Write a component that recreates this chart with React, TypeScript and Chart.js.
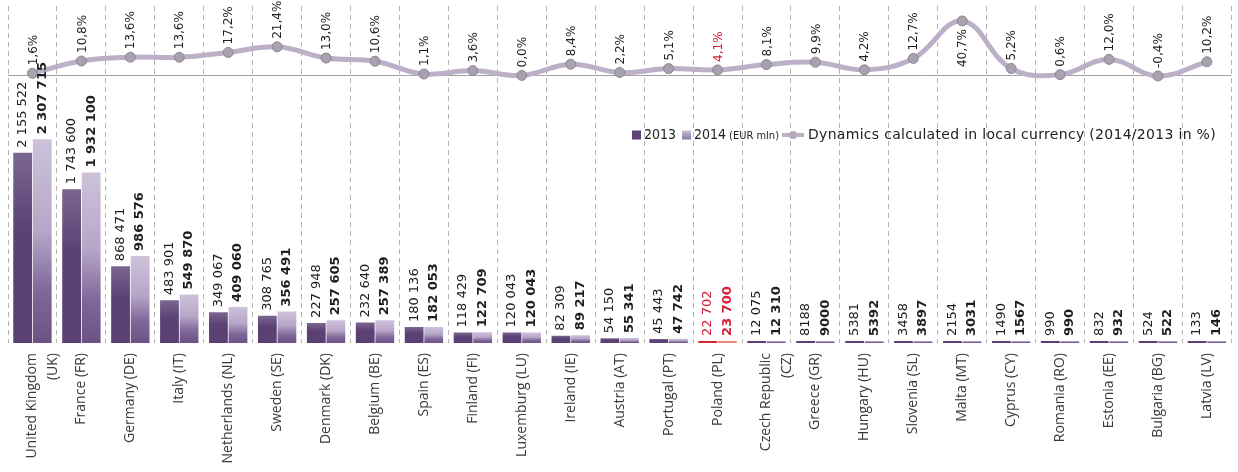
import React, { useEffect, useRef } from 'react';
import { Chart, registerables } from 'chart.js';

Chart.register(...registerables);

const categories: (string | string[])[] = [
  ['United Kingdom', '(UK)'], 'France (FR)', 'Germany (DE)', 'Italy (IT)', 'Netherlands (NL)',
  'Sweden (SE)', 'Denmark (DK)', 'Belgium (BE)', 'Spain (ES)', 'Finland (FI)',
  'Luxemburg (LU)', 'Ireland (IE)', 'Austria (AT)', 'Portugal (PT)', 'Poland (PL)',
  ['Czech Republic', '(CZ)'], 'Greece (GR)', 'Hungary (HU)', 'Slovenia (SL)', 'Malta (MT)',
  'Cyprus (CY)', 'Romania (RO)', 'Estonia (EE)', 'Bulgaria (BG)', 'Latvia (LV)',
];

const values2013 = [
  2155522, 1743600, 868471, 483901, 349067, 308765, 227948, 232640, 180136, 118429,
  120043, 82309, 54150, 45443, 22702, 12075, 8188, 5381, 3458, 2154,
  1490, 990, 832, 524, 133,
];

const values2014 = [
  2307715, 1932100, 986576, 549870, 409060, 356491, 257605, 257389, 182053, 122709,
  120043, 89217, 55341, 47742, 23700, 12310, 9000, 5392, 3897, 3031,
  1567, 990, 932, 522, 146,
];

const dynamics = [
  1.6, 10.8, 13.6, 13.6, 17.2, 21.4, 13.0, 10.6, 1.1, 3.6,
  0.0, 8.4, 2.2, 5.1, 4.1, 8.1, 9.9, 4.2, 12.7, 40.7,
  5.2, 0.6, 12.0, -0.4, 10.2,
];

const highlightIndex = 14; // Poland
const RED = '#d6203a';

const legendLabels = ['2013', '2014', '(EUR mln)', 'Dynamics calculated in local currency (2014/2013 in %)'];

const fmtValue = (v: number) =>
  v >= 10000 ? String(v).replace(/\B(?=(\d{3})+(?!\d))/g, ' ') : String(v);
const fmtPct = (v: number) => v.toFixed(1).replace('.', ',') + '%';

function barGradient(ctx: any, series: number) {
  const chart = ctx.chart;
  const idx = ctx.dataIndex;
  if (idx === highlightIndex) return series === 0 ? '#d2263a' : '#e7867a';
  const fallback = series === 0 ? '#5d4377' : '#b8a8c9';
  if (!chart.chartArea || ctx.type !== 'data') return fallback;
  const y = chart.scales.y;
  const base = y.getPixelForValue(0);
  let top = y.getPixelForValue(ctx.raw);
  if (base - top < 3) top = base - 3;
  const g = chart.ctx.createLinearGradient(0, top, 0, base);
  if (series === 0) {
    g.addColorStop(0, '#7b6690');
    g.addColorStop(0.4, '#5c4176');
    g.addColorStop(1, '#5a3f73');
  } else {
    g.addColorStop(0, '#cdc2da');
    g.addColorStop(0.45, '#b6a6c7');
    g.addColorStop(0.75, '#806799');
    g.addColorStop(1, '#6b5184');
  }
  return g;
}

const zeroLinePlugin = {
  id: 'zeroLine',
  beforeDatasetsDraw(chart: any) {
    const c = chart.ctx;
    const y = Math.round(chart.scales.y1.getPixelForValue(0)) + 0.5;
    c.save();
    c.strokeStyle = '#a3a3a3';
    c.lineWidth = 1;
    c.beginPath();
    c.moveTo(chart.chartArea.left, y);
    c.lineTo(chart.chartArea.right, y);
    c.stroke();
    c.restore();
  },
};

const labelsPlugin = {
  id: 'valueLabels',
  afterDatasetsDraw(chart: any) {
    const c = chart.ctx;
    c.save();
    [0, 1].forEach((di) => {
      const meta = chart.getDatasetMeta(di);
      const vals = di === 0 ? values2013 : values2014;
      meta.data.forEach((el: any, i: number) => {
        c.save();
        c.translate(el.x, el.y - 5);
        c.rotate(-Math.PI / 2);
        c.font = `${di === 1 ? 'bold ' : ''}13px "DejaVu Sans", sans-serif`;
        c.fillStyle = i === highlightIndex ? RED : '#1e1e1e';
        c.textAlign = 'left';
        c.textBaseline = 'middle';
        c.fillText(fmtValue(vals[i]), 0, 0);
        c.restore();
      });
    });
    const lm = chart.getDatasetMeta(2);
    lm.data.forEach((el: any, i: number) => {
      const txt = fmtPct(dynamics[i]);
      c.save();
      c.font = '12px "DejaVu Sans", sans-serif';
      const w = c.measureText(txt).width;
      const above = el.y - 8 - w >= -2;
      c.translate(el.x + 1, above ? el.y - 8 : el.y + 8);
      c.rotate(-Math.PI / 2);
      c.fillStyle = i === highlightIndex ? RED : '#1e1e1e';
      c.textAlign = above ? 'left' : 'right';
      c.textBaseline = 'middle';
      c.fillText(txt, 0, 0);
      c.restore();
    });
    c.restore();
  },
};

const legendPlugin = {
  id: 'customLegend',
  afterDraw(chart: any) {
    const c = chart.ctx;
    const fYear = '14px "DejaVu Sans Condensed", "DejaVu Sans", sans-serif';
    const fMain = '14px "DejaVu Sans", sans-serif';
    const fSmall = '11px "DejaVu Sans Condensed", "DejaVu Sans", sans-serif';
    const yMid = 135;
    const sq = 9;
    c.save();
    c.textBaseline = 'middle';
    c.textAlign = 'left';
    let x = 632;
    // 2013
    c.fillStyle = '#5d4377';
    c.fillRect(x, yMid - sq / 2, sq, sq);
    x += sq + 3;
    c.font = fYear;
    c.fillStyle = '#222';
    c.fillText(legendLabels[0], x, yMid);
    x += c.measureText(legendLabels[0]).width + 6;
    // 2014
    const g = c.createLinearGradient(0, yMid - sq / 2, 0, yMid + sq / 2);
    g.addColorStop(0, '#cdc2da');
    g.addColorStop(1, '#8a72a0');
    c.fillStyle = g;
    c.fillRect(x, yMid - sq / 2, sq, sq);
    x += sq + 3;
    c.fillStyle = '#222';
    c.fillText(legendLabels[1], x, yMid);
    x += c.measureText(legendLabels[1]).width + 3;
    c.font = fSmall;
    c.fillText(legendLabels[2], x, yMid + 1);
    x += c.measureText(legendLabels[2]).width + 3;
    // line marker
    c.strokeStyle = '#bcb0c8';
    c.lineWidth = 4;
    c.beginPath();
    c.moveTo(x, yMid);
    c.lineTo(x + 22, yMid);
    c.stroke();
    c.fillStyle = '#b3abb9';
    c.beginPath();
    c.arc(x + 11, yMid, 4, 0, Math.PI * 2);
    c.fill();
    x += 22 + 4;
    c.font = fMain;
    c.fillStyle = '#222';
    const wDyn = c.measureText(legendLabels[3]).width;
    const avail = 1216 - x;
    const ls = Math.max(-0.5, Math.min(1.5, (avail - wDyn) / legendLabels[3].length));
    (c as any).letterSpacing = `${ls.toFixed(2)}px`;
    c.fillText(legendLabels[3], x, yMid);
    (c as any).letterSpacing = '0px';
    c.restore();
  },
};

export default function App() {
  const ref = useRef<HTMLCanvasElement>(null);
  useEffect(() => {
    document.body.style.margin = '0';
    const chart = new Chart(ref.current as HTMLCanvasElement, {
      type: 'bar',
      data: {
        labels: categories as any,
        datasets: [
          {
            type: 'bar',
            label: '2013',
            data: values2013,
            yAxisID: 'y',
            backgroundColor: (ctx: any) => barGradient(ctx, 0),
            categoryPercentage: 0.8,
            barPercentage: 0.96,
            minBarLength: 2,
            order: 2,
          },
          {
            type: 'bar',
            label: '2014',
            data: values2014,
            yAxisID: 'y',
            backgroundColor: (ctx: any) => barGradient(ctx, 1),
            categoryPercentage: 0.8,
            barPercentage: 0.96,
            minBarLength: 2,
            order: 2,
          },
          {
            type: 'line',
            label: 'Dynamics',
            data: dynamics,
            yAxisID: 'y1',
            borderColor: '#bcb0c8',
            borderWidth: 5,
            tension: 0.4,
            pointRadius: 5,
            pointBackgroundColor: '#a8a1ae',
            pointBorderColor: '#8c8592',
            pointBorderWidth: 1,
            clip: false as any,
            order: 1,
          } as any,
        ],
      },
      options: {
        animation: false,
        responsive: true,
        maintainAspectRatio: false,
        layout: { padding: { left: 8, right: 0, top: 0, bottom: 0 } },
        plugins: { legend: { display: false }, tooltip: { enabled: false } },
        scales: {
          x: {
            offset: true,
            grid: { display: true, offset: true, color: '#b4b4b4', drawTicks: false, lineWidth: 1 },
            border: { display: false, dash: [5, 4] },
            ticks: {
              autoSkip: false,
              minRotation: 90,
              maxRotation: 90,
              padding: 10,
              color: '#3a3a3a',
              font: { family: '"Open Sans", sans-serif', size: 14, lineHeight: 1.5 },
            },
            afterFit: (scale: any) => {
              scale.height = 129;
            },
          },
          y: { display: false, min: 0, max: 3819000 },
          y1: { display: false, min: -200, max: 51.9, position: 'right' },
        },
      },
      plugins: [zeroLinePlugin, labelsPlugin, legendPlugin],
    });
    return () => chart.destroy();
  }, []);
  return (
    <div style={{ width: 1238, height: 472, position: 'relative' }}>
      <canvas ref={ref} />
    </div>
  );
}
